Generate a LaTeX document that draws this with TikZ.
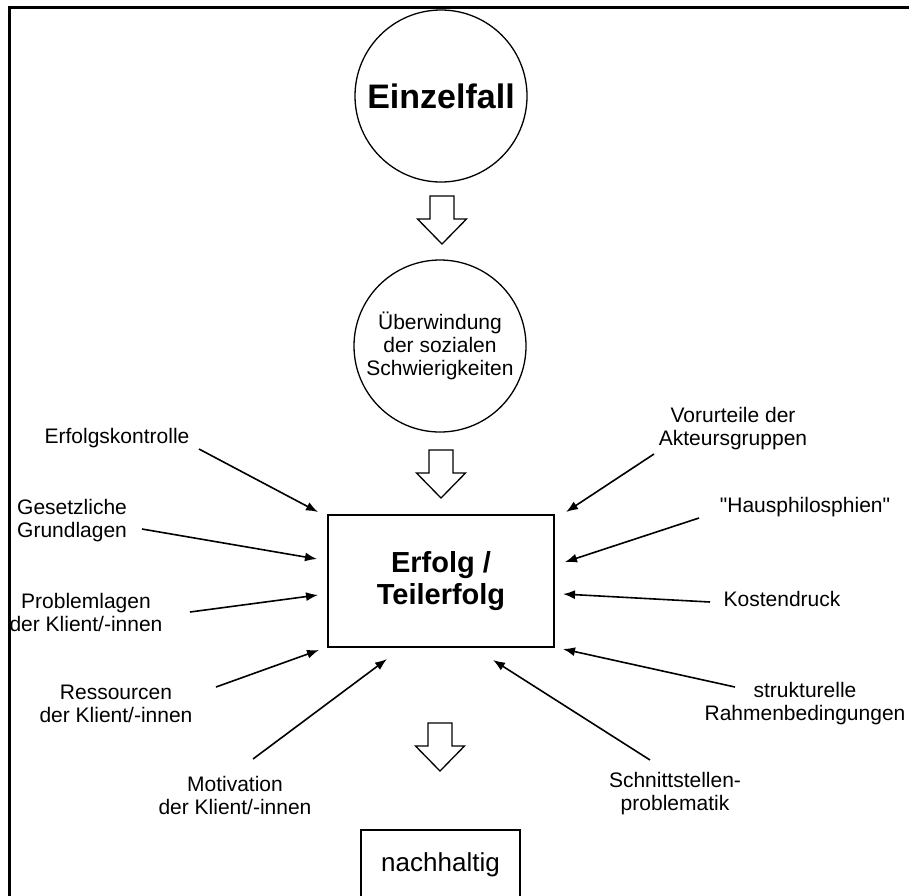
\documentclass[tikz,border=0pt]{standalone}
\usepackage{fontspec}
\setmainfont{Liberation Sans}
\usetikzlibrary{arrows.meta}
\begin{document}
\begin{tikzpicture}[x=1pt,y=-1pt,
  bigcircle/.style={draw,circle,line width=1.3pt,minimum size=172pt,inner sep=0pt},
  factor/.style={inner sep=0pt,align=center,font=\fontsize{21}{23}\selectfont},
  feed/.style={line width=1.6pt,-{Latex[length=12pt,width=9pt]}},
  hollow arrow/.pic={
    \draw[line width=1.3pt]
      (-12,0) -- (12,0) -- (12,23) -- (24.5,23)
      -- (0,48) -- (-24.5,23) -- (-12,23) -- cycle;}]
  \useasboundingbox (0,0) rectangle (909,895);
  \clip (0,0) rectangle (909,895);
  \draw[line width=3pt]
    (909,7)
    --
    (9,7)
    --
    (9,897);
  \node[bigcircle,font=\fontsize{34}{38}\bfseries] (einzel) at (441,96) {Einzelfall};
  \pic at (442,196) {hollow arrow};
  \node[bigcircle,align=center,font=\fontsize{21}{23}\selectfont] (ueber) at (440,346)
    {Überwindung\\der sozialen\\Schwierigkeiten};
  \pic at (441,450) {hollow arrow};
  \node[draw,line width=2pt,minimum width=226pt,minimum height=132pt,align=center,
    font=\fontsize{29}{32}\bfseries] (erfolg) at (441,581) {Erfolg /\\Teilerfolg};
  \pic at (440,723) {hollow arrow};
  \node[draw,line width=2pt,minimum width=159pt,minimum height=70pt,
    font=\fontsize{26}{30}\selectfont] (nachhaltig) at (440.5,865) {nachhaltig};
  \node[factor] (kontrolle) at (117,438) {Erfolgskontrolle};
  \node[factor,align=left,anchor=west] (gesetz) at (17,520.5) {Gesetzliche\\Grundlagen};
  \node[factor] (problem) at (86,612) {Problemlagen\\der Klient/-innen};
  \node[factor] (ressourcen) at (116,703.5) {Ressourcen\\der Klient/-innen};
  \node[factor] (motivation) at (235,795.5) {Motivation\\der Klient/-innen};
  \node[factor] (schnitt) at (675,793.5) {Schnittstellen-\\problematik};
  \node[factor] (struktur) at (805,703.5) {strukturelle\\Rahmenbedingungen};
  \node[factor] (kosten) at (782,599) {Kostendruck};
  \node[factor] (haus) at (805,507) {\textquotedbl Hausphilosphien\textquotedbl};
  \node[factor] (vorurteil) at (733,428.5) {Vorurteile der\\Akteursgruppen};
  \coordinate (kontrolle-from) at (199,449);
  \coordinate (kontrolle-to) at (318,512);
  \coordinate (gesetz-from) at (142,529);
  \coordinate (gesetz-to) at (317,559);
  \coordinate (problem-from) at (190,612);
  \coordinate (problem-to) at (318,595);
  \coordinate (ressourcen-from) at (216,687);
  \coordinate (ressourcen-to) at (319,650);
  \coordinate (motivation-from) at (253,759);
  \coordinate (motivation-to) at (387,659);
  \coordinate (schnitt-from) at (650,760);
  \coordinate (schnitt-to) at (493,660);
  \coordinate (struktur-from) at (735,687);
  \coordinate (struktur-to) at (563,649);
  \coordinate (kosten-from) at (710,602);
  \coordinate (kosten-to) at (563,594);
  \coordinate (haus-from) at (699,518);
  \coordinate (haus-to) at (565,562);
  \coordinate (vorurteil-from) at (654,454);
  \coordinate (vorurteil-to) at (566,512);
  \draw[feed] (kontrolle-from) -- (kontrolle-to);
  \draw[feed] (gesetz-from) -- (gesetz-to);
  \draw[feed] (problem-from) -- (problem-to);
  \draw[feed] (ressourcen-from) -- (ressourcen-to);
  \draw[feed] (motivation-from) -- (motivation-to);
  \draw[feed] (schnitt-from) -- (schnitt-to);
  \draw[feed] (struktur-from) -- (struktur-to);
  \draw[feed] (kosten-from) -- (kosten-to);
  \draw[feed] (haus-from) -- (haus-to);
  \draw[feed] (vorurteil-from) -- (vorurteil-to);
\end{tikzpicture}
\end{document}
